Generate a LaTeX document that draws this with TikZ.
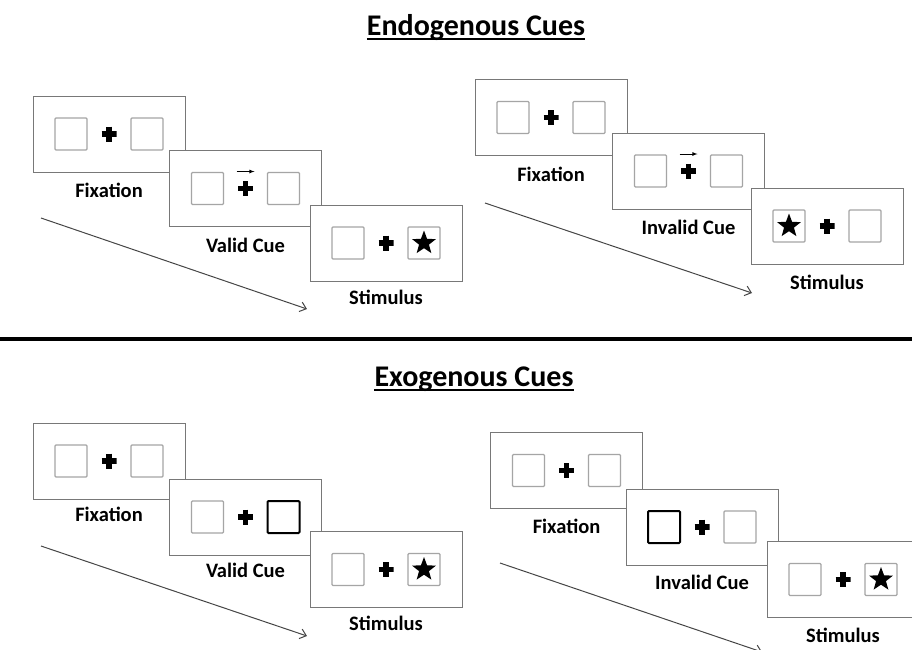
\documentclass[tikz,border=0pt]{standalone}
\usepackage{fontspec}
\setmainfont{Carlito}
\usetikzlibrary{arrows.meta}
\usetikzlibrary{shapes.geometric}
\usetikzlibrary{positioning}
\definecolor{FrameGray}{RGB}{120,120,120}
\definecolor{BoxGray}{RGB}{165,165,165}
\definecolor{LineGray}{RGB}{70,70,70}
\tikzstyle{FrameNode}=[rectangle, draw=FrameGray, line width=1pt, fill=white, minimum width=152pt, minimum height=76pt, inner sep=0pt]
\tikzstyle{BoxNode}=[rectangle, draw=BoxGray, line width=1.2pt, rounded corners=1pt, minimum size=32pt, inner sep=0pt]
\tikzstyle{CueBoxNode}=[BoxNode, draw=black, line width=2pt]
\tikzstyle{StarNode}=[star, star points=5, star point ratio=2.4, fill=black, minimum size=25pt, inner sep=0pt]
\tikzstyle{CrossNode}=[rectangle, minimum size=15pt, inner sep=0pt, path picture={\draw[line width=5.5pt] (path picture bounding box.north) -- (path picture bounding box.south) (path picture bounding box.west) -- (path picture bounding box.east);}]
\tikzstyle{LabelNode}=[font=\fontsize{20.5}{24}\selectfont\bfseries, text height=14pt, text depth=4pt, inner sep=0pt]
\tikzstyle{TitleNode}=[font=\fontsize{30}{36}\selectfont\bfseries, inner sep=0pt, anchor=base]
\tikzstyle{UnderLine}=[line width=2pt]
\tikzstyle{SepLine}=[line width=4pt]
\tikzstyle{TimeEdge}=[-{Straight Barb[length=6pt,width=10pt]}, draw=LineGray, line width=1pt]
\tikzstyle{CueEdge}=[->, line width=0.8pt]
\tikzset{>=latex}

\begin{document}
\begin{tikzpicture}[x=1pt, y=-1pt]
\useasboundingbox (0,0) rectangle (912,649);

% titles and separator
\node[TitleNode] (EndoTitle) at (476,35) {Endogenous Cues};
\draw[UnderLine] ([yshift=-4pt]EndoTitle.base west) -- ([yshift=-4pt]EndoTitle.base east);
\node[TitleNode] (ExoTitle) at (474,386) {Exogenous Cues};
\draw[UnderLine] ([yshift=-4pt]ExoTitle.base west) -- ([yshift=-4pt]ExoTitle.base east);
\coordinate (SepL) at (0,339);
\coordinate (SepR) at (912,339);
\draw[SepLine] (SepL) -- (SepR);

% endogenous, valid
\node[FrameNode] (EVfix) at (109,134) {};
\node[BoxNode] (EVfixL) at ([xshift=-38pt]EVfix.center) {};
\node[CrossNode] (EVfixC) at (EVfix.center) {};
\node[BoxNode] (EVfixR) at ([xshift=38pt]EVfix.center) {};
\node[LabelNode, below=11pt of EVfix] (EVfixT) {Fixation};

\node[FrameNode] (EVcue) at (245.5,188.5) {};
\node[BoxNode] (EVcueL) at ([xshift=-38pt]EVcue.center) {};
\node[CrossNode] (EVcueC) at (EVcue.center) {};
\node[BoxNode] (EVcueR) at ([xshift=38pt]EVcue.center) {};
\coordinate (EVcueAs) at ([shift={(-9,-17)}]EVcueC.center);
\coordinate (EVcueAe) at ([shift={(9,-17)}]EVcueC.center);
\draw[CueEdge] (EVcueAs) -- (EVcueAe);
\node[LabelNode, below=11pt of EVcue] (EVcueT) {Valid Cue};

\node[FrameNode] (EVstim) at (386,243) {};
\node[BoxNode] (EVstimL) at ([xshift=-38pt]EVstim.center) {};
\node[CrossNode] (EVstimC) at (EVstim.center) {};
\node[BoxNode] (EVstimR) at ([xshift=38pt]EVstim.center) {};
\node[StarNode] (EVstimS) at (EVstimR.center) {};
\node[LabelNode, below=9pt of EVstim] (EVstimT) {Stimulus};

\coordinate (EVtimeS) at (41,218);
\coordinate (EVtimeE) at (307,309);
\draw[TimeEdge] (EVtimeS) -- (EVtimeE);

% endogenous, invalid
\node[FrameNode] (EIfix) at (551,117.5) {};
\node[BoxNode] (EIfixL) at ([xshift=-38pt]EIfix.center) {};
\node[CrossNode] (EIfixC) at (EIfix.center) {};
\node[BoxNode] (EIfixR) at ([xshift=38pt]EIfix.center) {};
\node[LabelNode, below=11pt of EIfix] (EIfixT) {Fixation};

\node[FrameNode] (EIcue) at (688.5,171) {};
\node[BoxNode] (EIcueL) at ([xshift=-38pt]EIcue.center) {};
\node[CrossNode] (EIcueC) at (EIcue.center) {};
\node[BoxNode] (EIcueR) at ([xshift=38pt]EIcue.center) {};
\coordinate (EIcueAs) at ([shift={(-9,-17)}]EIcueC.center);
\coordinate (EIcueAe) at ([shift={(9,-17)}]EIcueC.center);
\draw[CueEdge] (EIcueAs) -- (EIcueAe);
\node[LabelNode, below=11pt of EIcue] (EIcueT) {Invalid Cue};

\node[FrameNode] (EIstim) at (827,226) {};
\node[BoxNode] (EIstimL) at ([xshift=-38pt]EIstim.center) {};
\node[CrossNode] (EIstimC) at (EIstim.center) {};
\node[BoxNode] (EIstimR) at ([xshift=38pt]EIstim.center) {};
\node[StarNode] (EIstimS) at (EIstimL.center) {};
\node[LabelNode, below=11pt of EIstim] (EIstimT) {Stimulus};

\coordinate (EItimeS) at (485,203);
\coordinate (EItimeE) at (752,293);
\draw[TimeEdge] (EItimeS) -- (EItimeE);

% exogenous, valid
\node[FrameNode] (XVfix) at (109,461) {};
\node[BoxNode] (XVfixL) at ([xshift=-38pt]XVfix.center) {};
\node[CrossNode] (XVfixC) at (XVfix.center) {};
\node[BoxNode] (XVfixR) at ([xshift=38pt]XVfix.center) {};
\node[LabelNode, below=8pt of XVfix] (XVfixT) {Fixation};

\node[FrameNode] (XVcue) at (245.5,517) {};
\node[BoxNode] (XVcueL) at ([xshift=-38pt]XVcue.center) {};
\node[CrossNode] (XVcueC) at (XVcue.center) {};
\node[CueBoxNode] (XVcueR) at ([xshift=38pt]XVcue.center) {};
\node[LabelNode, below=8pt of XVcue] (XVcueT) {Valid Cue};

\node[FrameNode] (XVstim) at (386,569.5) {};
\node[BoxNode] (XVstimL) at ([xshift=-38pt]XVstim.center) {};
\node[CrossNode] (XVstimC) at (XVstim.center) {};
\node[BoxNode] (XVstimR) at ([xshift=38pt]XVstim.center) {};
\node[StarNode] (XVstimS) at (XVstimR.center) {};
\node[LabelNode, below=8pt of XVstim] (XVstimT) {Stimulus};

\coordinate (XVtimeS) at (41,546);
\coordinate (XVtimeE) at (307,636);
\draw[TimeEdge] (XVtimeS) -- (XVtimeE);

% exogenous, invalid
\node[FrameNode] (XIfix) at (566.5,470.5) {};
\node[BoxNode] (XIfixL) at ([xshift=-38pt]XIfix.center) {};
\node[CrossNode] (XIfixC) at (XIfix.center) {};
\node[BoxNode] (XIfixR) at ([xshift=38pt]XIfix.center) {};
\node[LabelNode, below=10pt of XIfix] (XIfixT) {Fixation};

\node[FrameNode] (XIcue) at (702,527) {};
\node[CueBoxNode] (XIcueL) at ([xshift=-38pt]XIcue.center) {};
\node[CrossNode] (XIcueC) at (XIcue.center) {};
\node[BoxNode] (XIcueR) at ([xshift=38pt]XIcue.center) {};
\node[LabelNode, below=10pt of XIcue] (XIcueT) {Invalid Cue};

\node[FrameNode] (XIstim) at (843,579.5) {};
\node[BoxNode] (XIstimL) at ([xshift=-38pt]XIstim.center) {};
\node[CrossNode] (XIstimC) at (XIstim.center) {};
\node[BoxNode] (XIstimR) at ([xshift=38pt]XIstim.center) {};
\node[StarNode] (XIstimS) at (XIstimR.center) {};
\node[LabelNode, below=10pt of XIstim] (XIstimT) {Stimulus};

\coordinate (XItimeS) at (500,563);
\coordinate (XItimeE) at (762,652);
\draw[TimeEdge] (XItimeS) -- (XItimeE);
\end{tikzpicture}
\end{document}
